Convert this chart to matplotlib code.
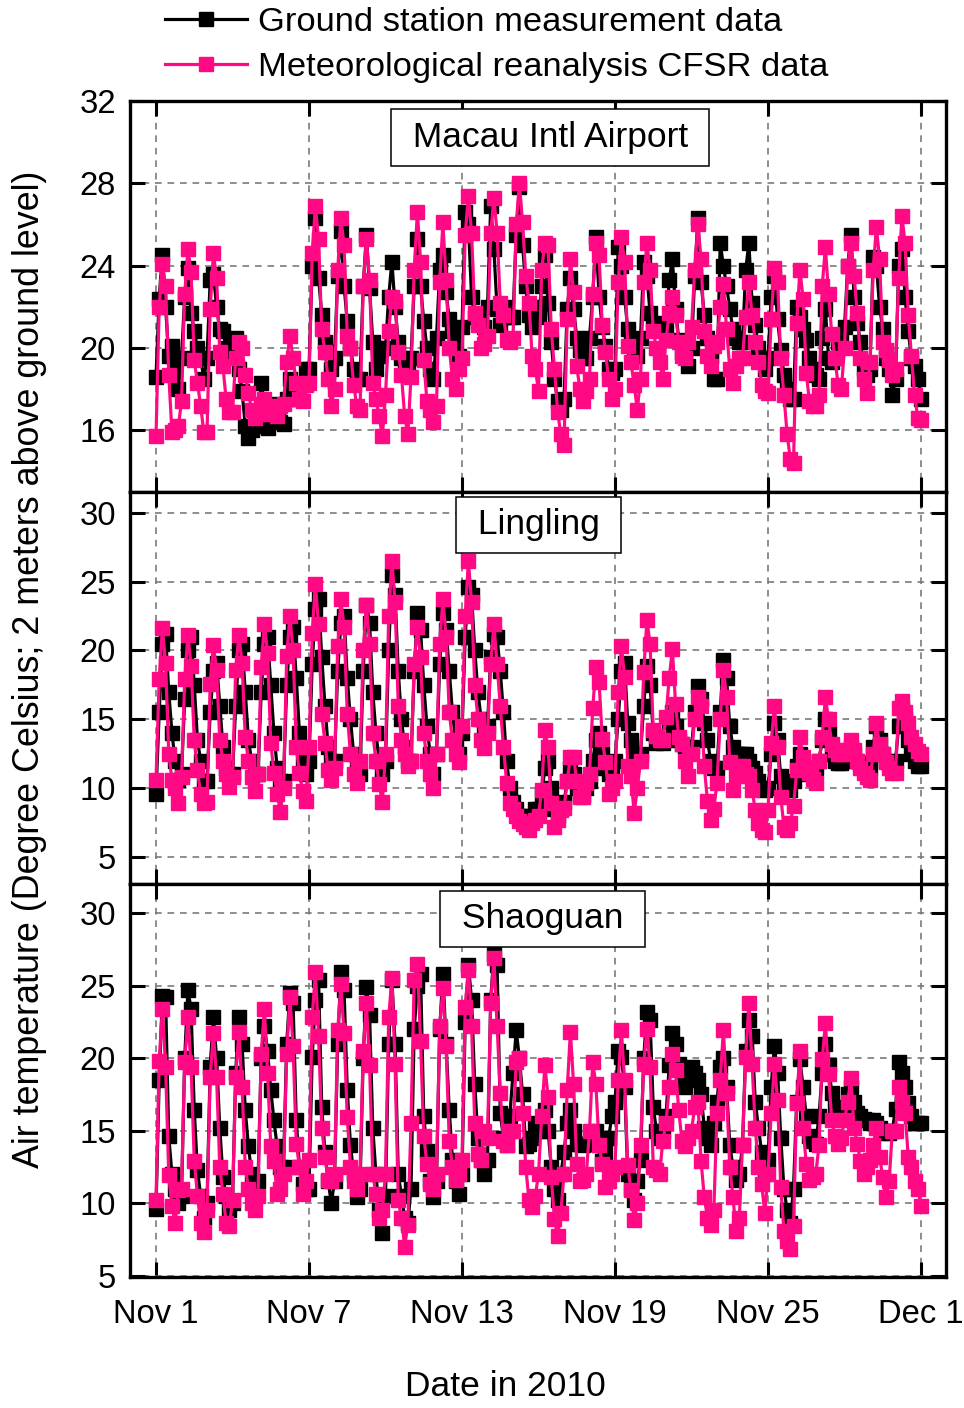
import numpy as np
import matplotlib
matplotlib.use("Agg")
import matplotlib.pyplot as plt

plt.rcParams['font.family'] = ['Liberation Sans', 'DejaVu Sans']

# 3-hourly values, one row per day (Nov 1 ... Nov 30), plus Dec 1 00:00
macau_obs = [
    [18.6, 22.4, 24.5, 22.0, 19.6, 20.1, 19.0, 18.0],
    [19.5, 22.5, 23.9, 21.7, 20.8, 20.0, 19.5, 18.5],
    [19.5, 23.3, 23.6, 22.0, 20.9, 20.8, 20.0, 19.6],
    [20.2, 20.5, 19.0, 17.9, 16.2, 15.6, 16.0, 16.5],
    [16.2, 18.3, 17.3, 16.1, 16.8, 17.3, 17.0, 16.4],
    [16.3, 17.5, 18.5, 18.0, 17.6, 17.5, 18.2, 19.0],
    [19.0, 24.0, 26.3, 23.4, 21.6, 20.3, 19.8, 19.0],
    [19.5, 23.5, 25.7, 23.0, 21.3, 20.0, 19.0, 18.5],
    [18.5, 23.0, 25.5, 22.9, 20.3, 19.0, 19.6, 20.0],
    [20.0, 22.5, 24.2, 22.0, 20.3, 19.5, 19.3, 19.0],
    [19.5, 23.0, 25.3, 23.0, 21.3, 20.0, 19.0, 18.5],
    [20.5, 23.8, 24.5, 22.7, 21.4, 20.8, 20.3, 19.6],
    [21.0, 26.6, 26.0, 22.5, 21.5, 21.3, 21.5, 21.0],
    [22.0, 26.9, 24.8, 21.9, 21.1, 21.5, 22.0, 21.5],
    [21.5, 25.5, 27.8, 25.0, 23.0, 21.6, 21.0, 22.0],
    [21.5, 23.0, 24.5, 22.2, 20.3, 18.5, 17.4, 17.0],
    [17.5, 21.9, 23.4, 21.9, 20.5, 19.9, 19.5, 19.5],
    [20.5, 22.5, 25.4, 22.5, 21.0, 20.1, 19.0, 18.8],
    [19.0, 24.9, 24.0, 22.5, 20.9, 20.3, 20.0, 19.6],
    [20.5, 24.2, 23.5, 21.7, 21.1, 21.0, 21.2, 21.0],
    [21.0, 23.3, 24.3, 21.9, 20.4, 19.8, 19.6, 19.1],
    [20.0, 23.5, 26.3, 23.2, 21.6, 20.5, 19.6, 18.5],
    [18.5, 25.1, 24.0, 23.0, 21.9, 20.9, 20.5, 20.3],
    [20.3, 23.8, 25.1, 22.2, 21.1, 20.0, 19.5, 19.0],
    [19.5, 22.5, 23.5, 21.4, 19.9, 18.7, 18.0, 17.5],
    [17.5, 22.0, 21.5, 20.9, 20.4, 19.5, 19.0, 18.7],
    [18.5, 20.5, 21.9, 19.5, 19.3, 19.5, 20.3, 20.3],
    [21.0, 24.0, 25.5, 22.5, 21.2, 20.3, 19.0, 18.7],
    [19.0, 24.4, 24.0, 22.0, 20.9, 19.5, 19.0, 17.7],
    [18.5, 24.0, 24.8, 22.5, 20.8, 19.5, 19.1, 18.5],
    [17.5],
]
macau_cfsr = [
    [15.7, 22.0, 24.1, 23.0, 18.7, 15.9, 16.0, 16.2],
    [17.4, 22.6, 24.8, 23.7, 19.4, 18.3, 17.2, 15.9],
    [15.9, 21.9, 24.6, 23.4, 19.8, 19.1, 17.5, 16.9],
    [16.9, 19.5, 20.3, 20.0, 18.7, 17.8, 17.0, 16.6],
    [16.8, 17.3, 17.5, 17.2, 16.8, 17.0, 16.7, 17.2],
    [17.3, 19.3, 20.6, 19.5, 18.3, 17.5, 17.4, 18.2],
    [18.3, 24.6, 26.9, 25.3, 20.9, 19.8, 18.5, 17.2],
    [18.0, 23.8, 26.3, 25.0, 20.6, 20.0, 18.2, 17.2],
    [17.0, 23.0, 25.3, 23.3, 18.3, 17.5, 16.7, 15.7],
    [17.7, 20.8, 22.5, 22.3, 19.8, 18.7, 16.7, 15.8],
    [18.6, 23.8, 26.6, 24.2, 19.4, 17.4, 17.0, 16.4],
    [17.2, 23.2, 26.1, 23.3, 20.0, 18.5, 18.0, 19.0],
    [19.5, 25.5, 27.4, 25.6, 21.7, 21.1, 20.0, 20.2],
    [20.6, 25.6, 27.3, 25.6, 22.2, 21.6, 20.4, 20.3],
    [20.5, 26.0, 28.0, 26.1, 23.5, 22.2, 19.6, 19.0],
    [17.9, 23.8, 25.1, 25.0, 20.9, 19.0, 16.9, 15.8],
    [15.3, 21.4, 24.3, 22.7, 19.1, 18.0, 17.4, 17.9],
    [18.5, 22.6, 25.1, 24.5, 21.1, 19.8, 18.5, 17.5],
    [18.0, 23.2, 25.4, 24.2, 20.1, 19.3, 18.2, 17.0],
    [18.5, 23.2, 25.1, 23.8, 20.8, 20.0, 19.3, 18.5],
    [20.4, 21.7, 22.5, 21.6, 20.3, 19.6, 19.5, 20.3],
    [21.0, 23.8, 26.0, 24.3, 20.8, 19.6, 19.1, 20.1],
    [20.3, 22.0, 23.1, 20.9, 19.0, 18.3, 19.1, 19.5],
    [19.5, 21.5, 23.2, 21.6, 20.3, 19.3, 18.2, 17.9],
    [17.8, 21.4, 23.9, 23.2, 19.5, 17.7, 15.8, 14.6],
    [14.4, 21.2, 23.8, 22.4, 18.8, 17.4, 17.2, 17.2],
    [17.7, 23.0, 24.9, 22.6, 20.7, 19.5, 18.2, 18.0],
    [20.0, 24.0, 25.1, 23.5, 21.7, 19.5, 18.5, 17.8],
    [19.3, 23.8, 25.9, 24.3, 20.3, 19.9, 19.4, 18.7],
    [19.0, 23.4, 26.4, 25.1, 21.6, 19.6, 17.7, 16.6],
    [16.5],
]
lingling_obs = [
    [9.6, 15.5, 20.5, 21.2, 17.0, 14.0, 12.0, 10.6],
    [11.0, 16.5, 20.0, 21.0, 17.5, 13.5, 12.0, 10.5],
    [10.5, 15.5, 18.5, 19.1, 16.0, 13.0, 11.5, 11.0],
    [11.0, 16.0, 20.0, 20.5, 17.0, 13.5, 12.0, 11.0],
    [11.0, 17.0, 20.5, 21.0, 17.5, 14.0, 11.5, 10.5],
    [10.5, 17.5, 21.0, 21.7, 18.0, 14.0, 12.0, 11.0],
    [12.0, 19.0, 23.0, 23.7, 19.5, 16.0, 13.0, 12.0],
    [12.0, 18.5, 22.0, 22.5, 18.0, 15.0, 12.5, 11.5],
    [11.0, 18.5, 23.3, 22.0, 17.0, 14.0, 12.0, 11.0],
    [12.0, 20.0, 25.5, 24.0, 18.5, 15.0, 13.0, 12.0],
    [12.0, 18.5, 22.7, 21.5, 17.5, 14.5, 12.5, 11.0],
    [12.5, 19.0, 22.7, 21.5, 18.5, 15.5, 13.5, 12.5],
    [14.0, 21.0, 24.6, 24.0, 20.0, 17.0, 15.0, 14.0],
    [14.5, 19.5, 21.2, 21.0, 18.5, 15.5, 12.0, 10.0],
    [9.0, 8.5, 8.0, 8.0, 7.8, 7.5, 8.0, 8.5],
    [8.5, 9.5, 11.5, 12.0, 10.0, 8.5, 8.0, 8.5],
    [9.0, 10.5, 11.5, 11.0, 10.0, 9.5, 9.5, 10.0],
    [10.5, 12.0, 13.5, 14.0, 12.5, 11.5, 11.0, 11.5],
    [12.0, 15.0, 18.5, 19.1, 14.7, 13.5, 12.5, 12.0],
    [12.5, 16.0, 18.9, 17.5, 14.0, 13.3, 13.5, 13.3],
    [13.5, 14.8, 15.5, 14.5, 13.5, 13.2, 13.0, 12.8],
    [13.0, 15.5, 17.4, 16.5, 14.7, 13.5, 12.0, 11.5],
    [11.5, 15.5, 19.3, 18.0, 14.5, 13.0, 12.5, 12.5],
    [12.5, 12.5, 12.0, 11.5, 11.1, 10.5, 10.0, 9.9],
    [10.0, 12.5, 14.7, 13.5, 10.9, 10.0, 9.9, 9.9],
    [10.5, 11.6, 12.5, 12.0, 11.5, 11.0, 11.0, 11.5],
    [12.0, 13.5, 15.0, 14.0, 12.5, 12.0, 11.8, 11.8],
    [12.0, 12.5, 13.0, 12.5, 12.0, 11.8, 11.6, 11.5],
    [11.5, 13.0, 14.5, 13.5, 12.5, 12.0, 11.8, 11.7],
    [12.0, 14.5, 15.8, 15.0, 13.5, 12.5, 12.0, 11.6],
    [11.6],
]
lingling_cfsr = [
    [10.6, 17.9, 21.6, 19.1, 12.5, 10.6, 10.0, 8.9],
    [10.8, 17.9, 21.1, 18.9, 13.5, 11.3, 9.6, 8.9],
    [9.0, 17.6, 20.4, 18.6, 13.5, 12.0, 11.0, 10.1],
    [10.8, 18.6, 21.1, 19.1, 13.7, 12.0, 10.8, 9.8],
    [11.0, 18.8, 21.9, 19.8, 13.3, 11.1, 9.6, 8.3],
    [10.0, 19.6, 22.5, 20.0, 13.0, 11.1, 9.8, 9.1],
    [13.0, 21.3, 24.8, 21.9, 15.4, 13.3, 11.3, 10.6],
    [11.5, 20.3, 23.7, 21.7, 15.4, 12.5, 11.0, 10.4],
    [12.0, 20.0, 23.3, 20.5, 14.0, 12.0, 10.3, 9.0],
    [12.5, 22.5, 26.5, 23.5, 16.0, 13.5, 12.5, 11.6],
    [12.0, 19.0, 21.7, 19.5, 14.0, 12.0, 11.0, 10.0],
    [12.5, 20.5, 23.7, 21.0, 15.5, 13.5, 12.5, 11.9],
    [14.5, 22.5, 26.5, 23.5, 17.5, 15.0, 13.5, 12.9],
    [14.0, 19.0, 21.9, 19.0, 16.0, 13.0, 10.4, 8.9],
    [8.5, 8.0, 7.6, 7.4, 7.2, 7.0, 7.5, 7.7],
    [8.0, 9.9, 14.2, 13.0, 8.9, 7.2, 7.7, 8.4],
    [8.6, 10.5, 12.3, 12.3, 10.5, 9.4, 9.4, 10.4],
    [11.0, 15.8, 18.8, 17.7, 13.6, 11.9, 9.6, 10.0],
    [10.5, 17.0, 20.3, 18.1, 11.6, 10.9, 8.2, 10.0],
    [12.0, 18.4, 22.2, 20.5, 14.2, 13.8, 13.5, 13.5],
    [15.2, 18.0, 20.1, 16.1, 13.7, 13.2, 12.0, 10.9],
    [12.5, 15.0, 16.6, 16.0, 11.6, 9.1, 7.7, 8.5],
    [10.4, 15.0, 18.6, 16.6, 11.9, 9.9, 10.9, 11.6],
    [11.6, 11.0, 10.9, 9.9, 8.4, 7.5, 7.0, 6.8],
    [8.4, 13.3, 16.0, 13.0, 9.4, 7.2, 7.0, 7.5],
    [8.7, 11.3, 13.7, 12.3, 11.5, 11.1, 10.7, 10.4],
    [12.0, 13.7, 16.6, 15.0, 13.2, 12.8, 12.5, 12.5],
    [12.5, 12.8, 13.5, 12.8, 12.0, 11.5, 11.1, 10.8],
    [10.6, 12.5, 14.7, 13.2, 12.5, 11.9, 11.5, 11.1],
    [11.1, 15.8, 16.3, 15.5, 14.7, 13.7, 13.2, 12.7],
    [12.5],
]
shaoguan_obs = [
    [9.6, 18.5, 24.3, 24.2, 14.6, 12.0, 11.0, 10.0],
    [10.5, 20.0, 24.7, 23.4, 16.4, 12.3, 10.5, 9.0],
    [10.0, 19.4, 22.8, 20.0, 15.2, 11.8, 10.5, 9.5],
    [10.0, 19.0, 22.8, 21.0, 16.4, 13.9, 12.0, 11.0],
    [11.5, 20.0, 22.2, 20.5, 17.8, 15.7, 13.9, 12.5],
    [12.5, 21.0, 24.5, 23.8, 15.7, 12.5, 11.3, 11.0],
    [11.0, 20.1, 24.0, 25.4, 16.6, 13.5, 11.5, 10.0],
    [11.5, 21.0, 25.9, 24.7, 17.8, 14.0, 12.0, 10.4],
    [11.0, 20.0, 24.9, 23.0, 15.2, 12.0, 9.5, 7.9],
    [10.5, 21.0, 25.4, 21.0, 12.0, 10.5, 9.0, 8.6],
    [11.0, 22.0, 25.0, 25.8, 16.0, 13.6, 11.5, 10.4],
    [11.5, 22.0, 25.8, 21.0, 16.4, 13.0, 11.5, 10.6],
    [12.0, 22.5, 26.4, 24.0, 18.2, 14.5, 13.0, 12.0],
    [13.0, 24.0, 27.2, 26.4, 16.2, 14.5, 14.0, 16.0],
    [19.0, 21.9, 20.0, 17.5, 13.9, 14.1, 14.5, 15.5],
    [15.0, 15.5, 16.4, 15.0, 12.5, 11.0, 10.2, 12.0],
    [13.5, 15.5, 16.4, 15.0, 14.1, 14.1, 14.0, 14.1],
    [14.1, 14.5, 15.0, 14.0, 12.9, 13.5, 14.5, 16.0],
    [17.0, 20.5, 20.1, 18.0, 12.0, 11.0, 10.2, 11.5],
    [13.0, 20.0, 23.2, 22.6, 16.6, 15.0, 14.5, 15.0],
    [16.0, 19.5, 21.7, 21.0, 19.6, 18.5, 18.0, 19.0],
    [19.4, 19.0, 18.5, 17.5, 15.2, 14.5, 14.0, 15.5],
    [17.0, 19.4, 20.0, 18.0, 14.0, 12.5, 11.6, 12.0],
    [14.0, 20.5, 22.6, 21.5, 17.0, 15.2, 13.5, 12.0],
    [13.0, 18.0, 20.8, 19.0, 14.5, 11.0, 9.5, 8.6],
    [11.0, 17.0, 19.9, 18.0, 16.0, 14.6, 14.3, 14.1],
    [16.0, 19.0, 21.0, 19.5, 17.6, 16.6, 16.4, 16.2],
    [16.5, 17.5, 18.0, 17.0, 16.2, 16.0, 15.8, 15.7],
    [15.5, 15.7, 15.5, 15.2, 15.0, 14.8, 14.8, 15.0],
    [16.5, 19.7, 19.0, 18.0, 16.9, 16.0, 15.5, 15.5],
    [15.5],
]
shaoguan_cfsr = [
    [10.2, 19.8, 23.4, 19.4, 11.9, 9.8, 8.6, 10.9],
    [11.0, 19.7, 22.8, 19.4, 12.9, 10.5, 8.6, 8.0],
    [9.5, 18.7, 21.7, 18.7, 12.5, 10.6, 8.6, 8.4],
    [10.2, 18.7, 21.8, 18.0, 12.5, 11.0, 10.0, 9.5],
    [10.5, 20.3, 23.4, 19.0, 13.9, 12.9, 10.6, 11.0],
    [12.0, 20.3, 24.2, 20.8, 14.1, 12.5, 10.6, 11.5],
    [13.0, 22.8, 25.9, 21.5, 15.2, 13.2, 11.6, 11.5],
    [12.0, 21.9, 25.1, 21.7, 15.9, 12.5, 11.5, 11.0],
    [12.0, 20.5, 23.8, 19.5, 12.0, 10.6, 9.0, 9.5],
    [12.0, 22.8, 25.5, 19.6, 10.2, 9.0, 7.0, 8.5],
    [15.5, 25.4, 26.5, 21.2, 14.6, 12.7, 11.3, 11.0],
    [12.0, 22.2, 24.8, 20.8, 14.3, 12.5, 11.6, 12.0],
    [13.0, 23.5, 26.1, 22.2, 15.5, 13.4, 13.0, 15.0],
    [14.5, 23.8, 26.9, 22.2, 17.6, 14.3, 14.0, 15.0],
    [15.0, 19.7, 20.0, 16.2, 12.5, 10.2, 9.7, 10.5],
    [12.0, 16.0, 19.5, 17.3, 11.8, 8.9, 7.7, 9.3],
    [12.0, 17.8, 21.8, 18.2, 12.7, 11.5, 11.6, 12.0],
    [15.0, 19.7, 18.2, 14.0, 12.7, 11.1, 11.5, 12.0],
    [12.5, 18.5, 21.9, 18.5, 12.6, 10.9, 8.8, 10.0],
    [14.0, 19.6, 22.0, 19.4, 12.5, 12.3, 12.0, 14.3],
    [15.5, 18.0, 20.3, 19.2, 16.4, 14.3, 13.9, 14.5],
    [15.0, 16.6, 17.0, 12.9, 10.4, 9.0, 8.5, 9.5],
    [16.2, 18.5, 21.9, 17.6, 12.5, 10.4, 8.1, 9.0],
    [14.0, 20.1, 23.8, 19.6, 15.2, 12.5, 11.3, 9.3],
    [12.0, 16.2, 19.6, 17.1, 11.1, 8.1, 7.4, 6.8],
    [8.4, 16.9, 20.5, 15.2, 12.7, 11.6, 11.8, 12.0],
    [14.0, 19.9, 22.4, 18.9, 15.7, 14.6, 14.1, 14.5],
    [15.7, 17.0, 18.6, 15.2, 14.1, 12.9, 12.0, 12.5],
    [13.0, 14.0, 15.2, 13.2, 11.8, 10.4, 11.5, 15.0],
    [15.0, 18.0, 17.0, 16.2, 13.2, 12.5, 11.5, 11.0],
    [9.8],
]

station_names = ["Macau Intl Airport", "Lingling", "Shaoguan"]
series_labels = ["Ground station measurement data",
                 "Meteorological reanalysis CFSR data"]
tick_days = [0, 6, 12, 18, 24, 30]
tick_labels = ["Nov 1", "Nov 7", "Nov 13", "Nov 19", "Nov 25", "Dec 1"]
yticks = [[16, 20, 24, 28, 32], [5, 10, 15, 20, 25, 30], [5, 10, 15, 20, 25, 30]]
ylims = [(13.0, 32.0), (3.05, 31.5), (4.9, 32.0)]
title_pos = [(0.515, 0.907), (0.501, 0.916), (0.5055, 0.911)]

obs_all = [macau_obs, lingling_obs, shaoguan_obs]
cfsr_all = [macau_cfsr, lingling_cfsr, shaoguan_cfsr]

PINK = '#FF0A84'

fig = plt.figure(figsize=(9.64, 14.08), dpi=100)
left, right = 130 / 964, 946 / 964
tops = [101, 492, 884]
bots = [492, 884, 1277]
axes = []
for i in range(3):
    b = 1 - bots[i] / 1408
    h = (bots[i] - tops[i]) / 1408
    ax = fig.add_axes([left, b, right - left, h])
    axes.append(ax)

for i, ax in enumerate(axes):
    obs = np.concatenate([np.array(r, float) for r in obs_all[i]])
    cf = np.concatenate([np.array(r, float) for r in cfsr_all[i]])
    t = np.arange(len(obs)) / 8.0
    l1, = ax.plot(t, obs, color='black', lw=2.3, marker='s', ms=9.5,
                  mec='black', mfc='black', label=series_labels[0], zorder=3)
    l2, = ax.plot(t, cf, color=PINK, lw=2.3, marker='s', ms=9.5,
                  mec=PINK, mfc=PINK, label=series_labels[1], zorder=4)
    ax.set_xlim(-1.02, 30.98)
    ax.set_ylim(*ylims[i])
    ax.set_xticks(tick_days)
    ax.set_yticks(yticks[i])
    ax.grid(True, color='#7a7a7a', ls=(0, (4, 3.5)), lw=1.2)
    ax.set_axisbelow(True)
    ax.tick_params(direction='in', which='major', length=11, width=2.2,
                   top=True, right=True, labelsize=23.6, pad=14)
    ax.tick_params(axis='y', pad=10)
    if i < 2:
        ax.tick_params(labelbottom=False)
    else:
        ax.set_xticklabels(tick_labels)
    for s in ax.spines.values():
        s.set_linewidth(2.4)
    ax.text(title_pos[i][0], title_pos[i][1], " " + station_names[i] + " ",
            transform=ax.transAxes, ha='center', va='center', fontsize=25.5,
            zorder=10,
            bbox=dict(boxstyle='square,pad=0.33', fc='white', ec='black', lw=1.1))

axes[2].tick_params(axis='x', pad=16)

fig.legend(handles=[l1, l2], labels=series_labels, loc='upper left',
           bbox_to_anchor=(163 / 964, 1 - 5 / 1408), frameon=False,
           fontsize=24.8, handlelength=2.4, handletextpad=0.3,
           labelspacing=0.42, borderpad=0.05, borderaxespad=0.0)

fig.text(0.031, 1 - 669 / 1408, "Air temperature (Degree Celsius; 2 meters above ground level)",
         rotation=90, ha='center', va='center', fontsize=25.8)
fig.text(505 / 964, 1 - 1387 / 1408, "Date in 2010", ha='center', va='center',
         fontsize=25.5)

fig.savefig("out.png", dpi=100)
